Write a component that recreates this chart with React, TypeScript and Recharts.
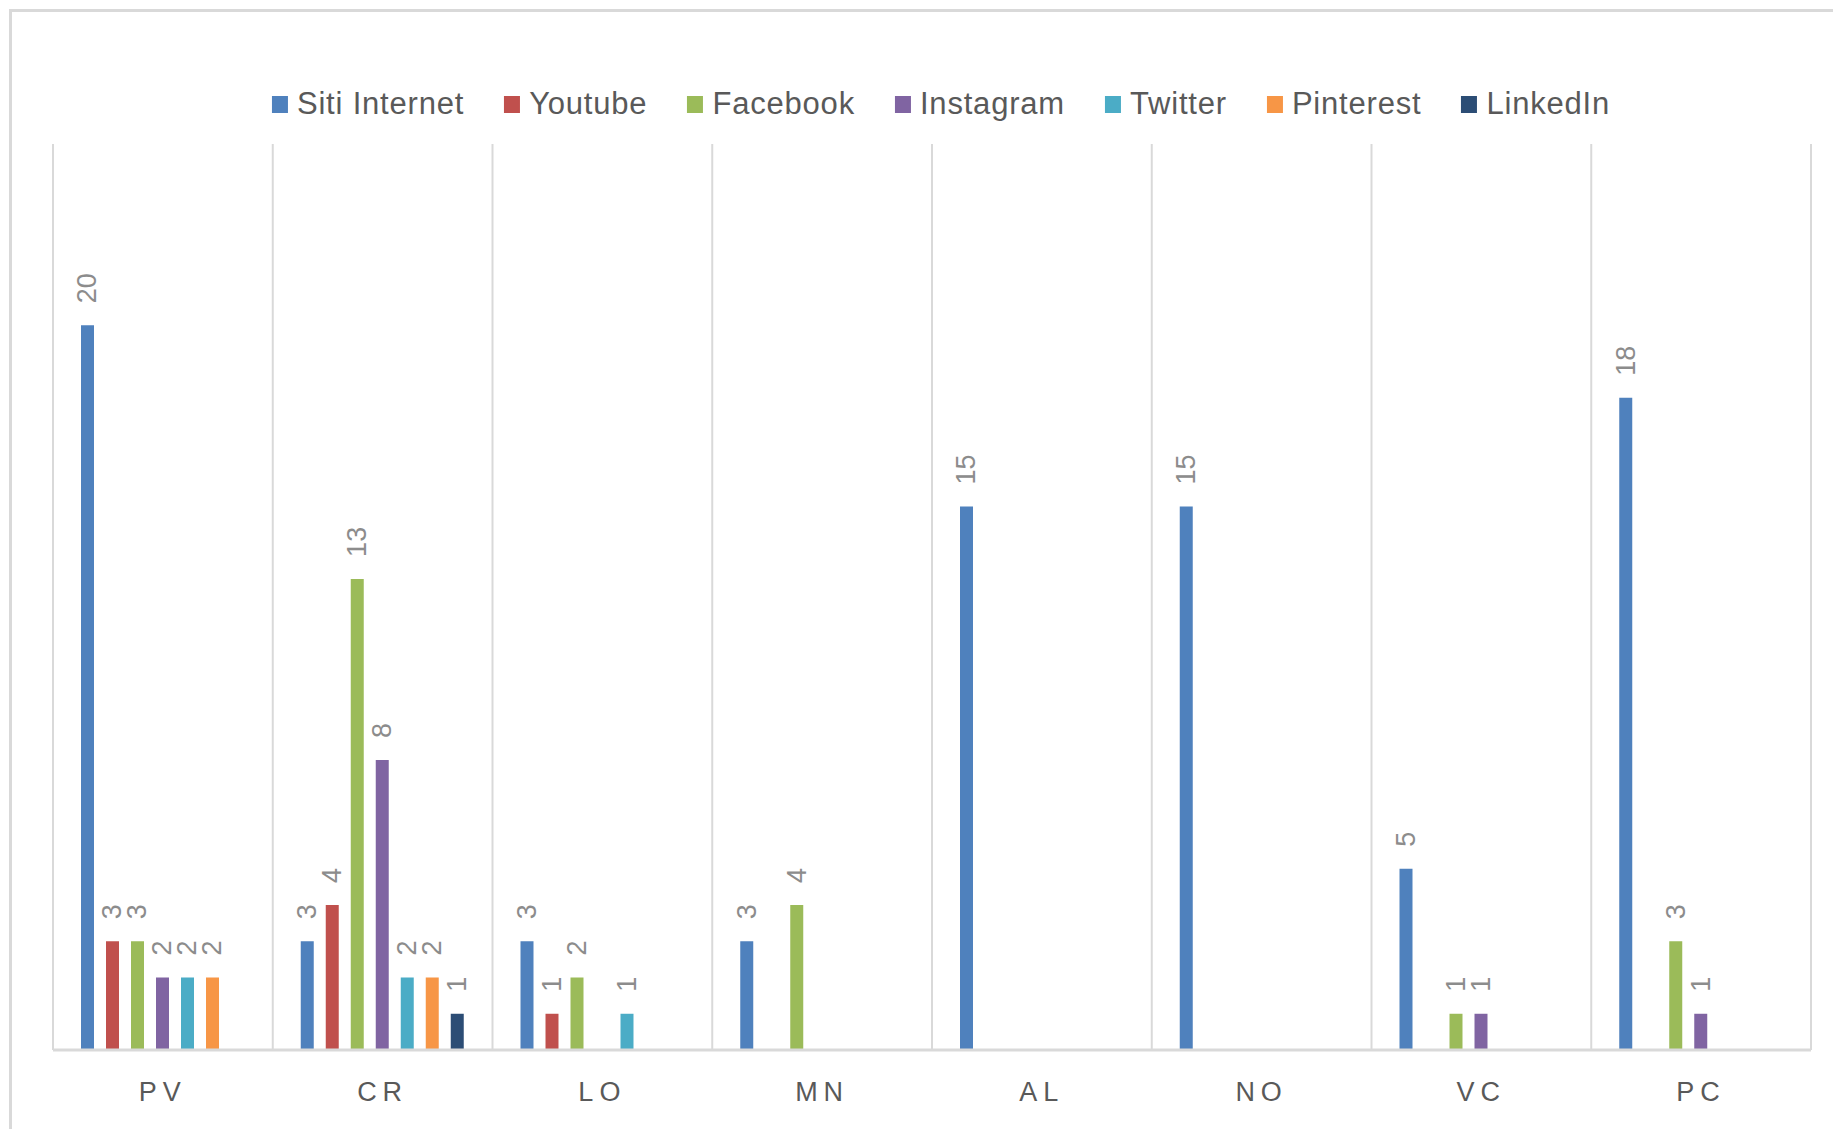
import React from 'react';
import { BarChart, Bar, XAxis, YAxis, CartesianGrid, LabelList } from 'recharts';

const categories = ['PV', 'CR', 'LO', 'MN', 'AL', 'NO', 'VC', 'PC'];

const sitiInternet = [20, 3, 3, 3, 15, 15, 5, 18];
const youtube = [3, 4, 1, 0, 0, 0, 0, 0];
const facebook = [3, 13, 2, 4, 0, 0, 1, 3];
const instagram = [2, 8, 0, 0, 0, 0, 1, 1];
const twitter = [2, 2, 1, 0, 0, 0, 0, 0];
const pinterest = [2, 2, 0, 0, 0, 0, 0, 0];
const linkedin = [0, 1, 0, 0, 0, 0, 0, 0];

const series = [
  { key: 'siti', name: 'Siti Internet', color: '#4F81BD', values: sitiInternet },
  { key: 'youtube', name: 'Youtube', color: '#C0504D', values: youtube },
  { key: 'facebook', name: 'Facebook', color: '#9BBB59', values: facebook },
  { key: 'instagram', name: 'Instagram', color: '#8064A2', values: instagram },
  { key: 'twitter', name: 'Twitter', color: '#4BACC6', values: twitter },
  { key: 'pinterest', name: 'Pinterest', color: '#F79646', values: pinterest },
  { key: 'linkedin', name: 'LinkedIn', color: '#2C4D75', values: linkedin },
];

const data = categories.map((cat, i) => {
  const row: any = { name: cat };
  series.forEach((s) => {
    row[s.key] = s.values[i] || null;
  });
  return row;
});

const FONT = '"Liberation Sans", Arial, sans-serif';

const ValueLabel = (props: any) => {
  const { x, y, width, value } = props;
  if (!value) return null;
  const cx = x + width / 2;
  const ty = y - 22;
  return (
    <text
      x={cx}
      y={ty}
      transform={`rotate(-90, ${cx}, ${ty})`}
      textAnchor="start"
      dominantBaseline="central"
      fill="#8c8c8c"
      fontSize={27}
      fontFamily={FONT}
    >
      {value}
    </text>
  );
};

const CategoryTick = (props: any) => {
  const { x, y, payload } = props;
  return (
    <text
      x={x}
      y={y + 42}
      textAnchor="middle"
      dominantBaseline="central"
      fill="#595959"
      fontSize={27}
      fontFamily={FONT}
      letterSpacing={6}
    >
      {payload.value}
    </text>
  );
};

// lines on the category boundaries, like Excel's category gridlines
const boundaryLines = ({ offset }: any) => {
  const lines: number[] = [];
  for (let i = 0; i <= categories.length; i++) {
    lines.push(offset.left + (offset.width * i) / categories.length);
  }
  return lines;
};

export default function App() {
  return (
    <div style={{ position: 'fixed', left: 0, top: 0, width: 1833, height: 1129, overflow: 'hidden', background: '#fff' }}>
      <div
        style={{
          position: 'absolute',
          left: 9,
          top: 9,
          width: 1900,
          height: 1200,
          border: '3px solid #d9d9d9',
        }}
      />
      {/* legend */}
      <div
        style={{
          position: 'absolute',
          left: 941,
          top: 104,
          transform: 'translate(-50%, -50%)',
          display: 'flex',
          alignItems: 'center',
          gap: 40,
          whiteSpace: 'nowrap',
          fontFamily: FONT,
          fontSize: 31,
          letterSpacing: 0.8,
          color: '#595959',
        }}
      >
        {series.map((s) => (
          <div key={s.key} style={{ display: 'flex', alignItems: 'center' }}>
            <span style={{ display: 'inline-block', width: 16, height: 17, background: s.color, marginRight: 9 }} />
            <span>{s.name}</span>
          </div>
        ))}
      </div>
      <div style={{ position: 'absolute', left: 0, top: 0 }}>
        <BarChart
          width={1833}
          height={1129}
          data={data}
          margin={{ top: 144, right: 22, bottom: 19, left: 53 }}
          barSize={13}
          barGap={12}
        >
          <CartesianGrid
            horizontal={false}
            vertical
            stroke="#d9d9d9"
            strokeWidth={2}
            verticalCoordinatesGenerator={boundaryLines}
          />
          <XAxis
            dataKey="name"
            height={60}
            axisLine={{ stroke: '#d9d9d9', strokeWidth: 3 }}
            tickLine={false}
            tickSize={0}
            tickMargin={0}
            tick={<CategoryTick />}
            interval={0}
          />
          <YAxis hide domain={[0, 25]} />
          {series.map((s) => (
            <Bar key={s.key} dataKey={s.key} name={s.name} fill={s.color} isAnimationActive={false}>
              <LabelList dataKey={s.key} content={<ValueLabel />} />
            </Bar>
          ))}
        </BarChart>
      </div>
    </div>
  );
}
